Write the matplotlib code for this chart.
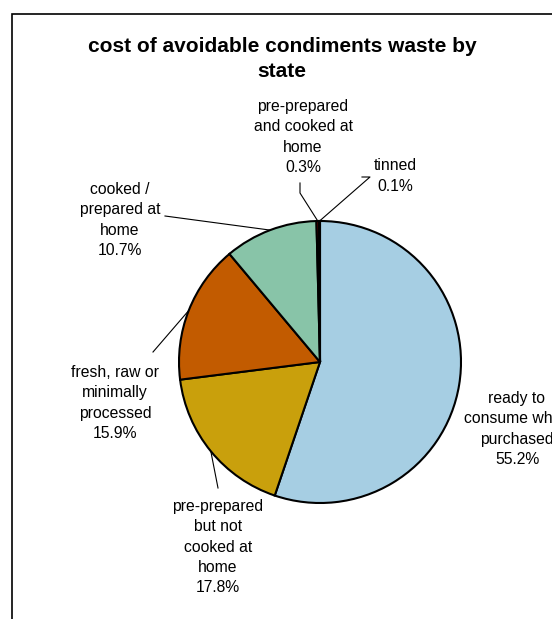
import numpy as np
import matplotlib.pyplot as plt
from matplotlib.patches import Rectangle

plt.rcParams['font.family'] = ['Liberation Sans', 'DejaVu Sans']

labels = ['ready to\nconsume when\npurchased', 'pre-prepared\nbut not\ncooked at\nhome',
          'fresh, raw or\nminimally\nprocessed', 'cooked /\nprepared at\nhome',
          'pre-prepared\nand cooked at\nhome', 'tinned']
values = [55.2, 17.8, 15.9, 10.7, 0.3, 0.1]
colors = ['#A6CEE3', '#C9A00C', '#C25B00', '#88C4A8', '#800000', '#3A5FA0']

W, H = 552, 619
fig = plt.figure(figsize=(W / 100, H / 100), dpi=100)
ax = fig.add_axes([0, 0, 1, 1])
ax.set_xlim(0, W)
ax.set_ylim(0, H)
ax.set_aspect('equal')
ax.axis('off')

# outer chart frame (runs off the right/bottom of the crop)
ax.add_patch(Rectangle((12, -20), 600, H - 14 + 20, fill=False, ec='black', lw=1.2))

cx, cy, r = 320, H - 362, 141
wedges, _ = ax.pie(values, colors=colors, startangle=90, counterclock=False,
                   center=(cx, cy), radius=r,
                   wedgeprops=dict(edgecolor='black', linewidth=1.5))
ax.set_xlim(0, W)
ax.set_ylim(0, H)

ax.text(282, H - 59, 'cost of avoidable condiments waste by\nstate', ha='center', va='center',
        fontsize=15, fontweight='bold', linespacing=1.35)

# label text centres and leader line knee points (pixels from top)
text_pos = [(517, 429), (218, 547), (115, 403), (120, 220), (303, 137), (395, 176)]
knees = [None, [(218, 488)], [(153, 352)], [(165, 216)], [(300, 183), (300, 193)], [(362, 177), (370, 177)]]

for i, (lab, v) in enumerate(zip(labels, values)):
    tx, ty = text_pos[i]
    ax.text(tx, H - ty, f'{lab}\n{v:.1f}%', ha='center', va='center', fontsize=11.3,
            linespacing=1.45, clip_on=True)
    if knees[i] is None:
        continue
    w = wedges[i]
    ang = np.deg2rad((w.theta1 + w.theta2) / 2)
    ex, ey = cx + r * np.cos(ang), cy + r * np.sin(ang)
    pts = [(x, H - y) for x, y in knees[i]] + [(ex, ey)]
    ax.plot([p[0] for p in pts], [p[1] for p in pts], color='black', lw=0.8, zorder=0.5)

fig.savefig('out.png', dpi=100)
